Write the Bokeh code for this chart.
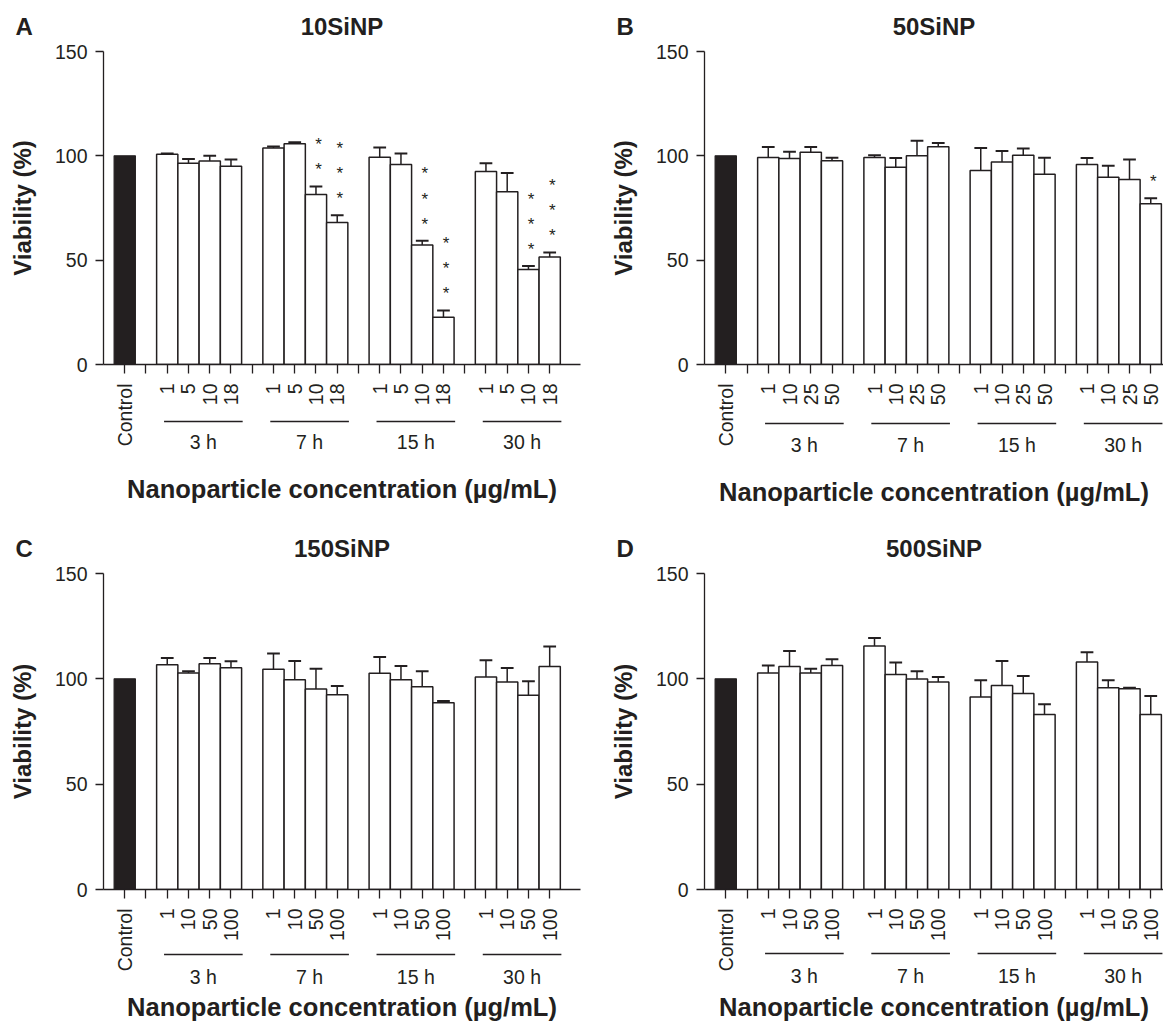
import math
from bokeh.plotting import figure
from bokeh.layouts import column, row
from bokeh.models import Range1d, FixedTicker
from bokeh.embed import file_html
from bokeh.resources import INLINE
from bokeh.core.properties import value

# ---------------- data ----------------
groups = ["3 h", "7 h", "15 h", "30 h"]
control_label = "Control"
control_value = 100

conc_A = ["1", "5", "10", "18"]
vals_A = [100.8, 96.5, 97.5, 95.0, 103.7, 105.8, 81.5, 68.0,
          99.3, 95.8, 57.3, 22.7, 92.5, 82.8, 45.5, 51.5]
errs_A = [0.3, 2.0, 2.5, 3.2, 0.8, 0.7, 3.8, 3.5,
          4.7, 5.3, 2.0, 3.2, 4.0, 9.0, 1.7, 2.2]
stars_A = [0, 0, 0, 0, 0, 0, 2, 3, 0, 0, 3, 3, 0, 0, 3, 3]

conc_B = ["1", "10", "25", "50"]
vals_B = [99.2, 98.7, 101.7, 97.7, 99.2, 94.5, 100.0, 104.4,
          93.0, 97.0, 100.3, 91.2, 95.8, 89.7, 88.6, 77.0]
errs_B = [5.0, 3.2, 2.5, 1.4, 1.1, 4.5, 7.2, 1.7,
          10.7, 5.3, 3.2, 7.9, 3.2, 5.6, 9.7, 2.7]
stars_B = [0, 0, 0, 0, 0, 0, 0, 0, 0, 0, 0, 0, 0, 0, 0, 1]

conc_C = ["1", "10", "50", "100"]
vals_C = [106.7, 102.8, 107.2, 105.3, 104.5, 99.6, 95.2, 92.5,
          102.6, 99.6, 96.3, 88.7, 100.9, 98.5, 92.2, 105.9]
errs_C = [3.2, 0.8, 2.7, 3.0, 7.5, 8.9, 9.6, 4.1,
          7.8, 6.5, 7.3, 0.8, 7.9, 6.6, 6.6, 9.5]
stars_C = [0] * 16

conc_D = ["1", "10", "50", "100"]
vals_D = [102.8, 105.9, 102.8, 106.3, 115.6, 102.0, 99.9, 98.5,
          91.4, 96.8, 93.0, 83.1, 108.0, 95.8, 95.3, 83.1]
errs_D = [3.5, 7.3, 2.0, 3.0, 3.8, 5.8, 3.7, 2.4,
          7.9, 11.7, 8.3, 4.8, 4.6, 3.5, 0.5, 8.7]
stars_D = [0] * 16

y_ticks = [0, 50, 100, 150]
x_title = "Nanoparticle concentration (\u00b5g/mL)"
y_title = "Viability (%)"

# ---------------- style ----------------
FONT = "Liberation Sans"
INK = "#231f20"
LEFT = 103
BOTTOM = 12   # space under the main x axis (ticks + half of the "0" label)


def base(**kw):
    p = figure(output_backend="svg", toolbar_location=None, **kw)
    p.outline_line_color = None
    p.background_fill_color = "white"
    p.border_fill_color = "white"
    return p


def panel(letter, title, concs, vals, errs, stars, x_end, frame_w, right_border,
          frame_h, head_h, title_y, line_off, lab_off, f_bottom, f_border,
          xl_standoff):
    x_start = -1
    width = LEFT + frame_w + right_border
    slots = [2 + 5 * (i // 4) + (i % 4) for i in range(len(vals))]
    n_slots = 21

    # ---- main chart
    M = base(frame_width=frame_w, frame_height=frame_h,
             x_range=Range1d(x_start, x_end), y_range=Range1d(0, 150),
             min_border_left=LEFT, min_border_right=right_border,
             min_border_top=12, min_border_bottom=BOTTOM)
    M.grid.visible = False

    M.vbar(x=[0], top=[control_value], width=1.0, fill_color=INK,
           line_color=INK, line_width=1.2)
    M.vbar(x=slots, top=vals, width=1.0, fill_color="white",
           line_color=INK, line_width=1.5)

    tops = [v + e for v, e in zip(vals, errs)]
    M.segment(x0=slots, y0=vals, x1=slots, y1=tops, line_color=INK, line_width=1.5)
    M.segment(x0=[s - 0.3 for s in slots], y0=tops, x1=[s + 0.3 for s in slots],
              y1=tops, line_color=INK, line_width=2)

    sx, sy = [], []
    for s, t, n in zip(slots, tops, stars):
        for k in range(n):
            sx.append(s + 0.12)
            sy.append(t + 8 + 12 * k)
    if sx:
        M.text(x=sx, y=sy, text=["*"] * len(sx), text_font=value(FONT),
               text_font_size="17px", text_align="center",
               text_baseline="middle", text_color=INK)

    xa = M.xaxis[0]
    xa.ticker = FixedTicker(ticks=list(range(n_slots)))
    xa.major_label_overrides = {t: "" for t in range(n_slots)}
    xa.major_label_orientation = math.pi / 2
    xa.major_label_standoff = 0
    xa.major_tick_out = 9
    xa.major_tick_in = 0
    xa.minor_tick_line_color = None
    xa.axis_line_color = INK
    xa.axis_line_width = 1.3
    xa.major_tick_line_color = INK
    xa.major_tick_line_width = 1.3

    ya = M.yaxis[0]
    ya.ticker = FixedTicker(ticks=y_ticks)
    ya.major_tick_out = 8
    ya.major_tick_in = 0
    ya.minor_tick_line_color = None
    ya.major_label_standoff = 8
    ya.major_label_text_font = FONT
    ya.major_label_text_font_size = "19.5px"
    ya.major_label_text_color = INK
    ya.axis_line_color = INK
    ya.axis_line_width = 1.3
    ya.major_tick_line_color = INK
    ya.major_tick_line_width = 1.3
    ya.axis_label = y_title
    ya.axis_label_standoff = 16
    ya.axis_label_text_font = FONT
    ya.axis_label_text_font_size = "24px"
    ya.axis_label_text_font_style = "bold"
    ya.axis_label_text_color = INK

    # ---- header: panel letter + title
    free = True
    H = base(width=width, height=head_h, x_range=Range1d(0, width),
             y_range=Range1d(0, head_h), x_axis_type=None, y_axis_type=None,
             min_border=0)
    try:
        H.frame_align = False
    except Exception:
        free = False
    if free:
        H.text(x=[15], y=[title_y], text=[letter], text_font=value(FONT),
               text_font_size="24px", text_font_style="bold", text_align="left",
               text_baseline="middle", text_color=INK)
        H.text(x=[LEFT + frame_w / 2], y=[title_y], text=[title],
               text_font=value(FONT), text_font_size="24px",
               text_font_style="bold", text_align="center",
               text_baseline="middle", text_color=INK)
    else:
        H = base(frame_width=frame_w, frame_height=head_h, x_range=M.x_range,
                 y_range=Range1d(0, head_h), x_axis_type=None,
                 min_border_left=LEFT, min_border_right=right_border,
                 min_border_top=0, min_border_bottom=0)
        H.grid.visible = False
        ha = H.yaxis[0]
        ha.ticker = FixedTicker(ticks=[title_y])
        ha.major_label_overrides = {title_y: letter}
        ha.axis_line_color = None
        ha.major_tick_line_color = None
        ha.minor_tick_line_color = None
        ha.major_tick_out = 0
        ha.major_label_standoff = LEFT - 15 - 17
        ha.major_label_text_font = FONT
        ha.major_label_text_font_size = "24px"
        ha.major_label_text_font_style = "bold"
        ha.major_label_text_color = INK
        H.text(x=[(x_start + x_end) / 2], y=[title_y], text=[title],
               text_font=value(FONT), text_font_size="24px",
               text_font_style="bold", text_align="center",
               text_baseline="middle", text_color=INK)

    # ---- footer: category labels, group bars and x title
    # y in pixels below the main x axis (inverted range)
    F = base(frame_width=frame_w, frame_height=f_bottom - BOTTOM,
             x_range=M.x_range, y_range=Range1d(f_bottom, BOTTOM),
             min_border_left=LEFT, min_border_right=right_border,
             min_border_top=0, min_border_bottom=f_border, y_axis_type=None)
    F.grid.visible = False

    lab_x = [0] + slots
    lab_t = [control_label] + [concs[i % 4] for i in range(len(slots))]
    F.text(x=lab_x, y=[19] * len(lab_x), text=lab_t, angle=math.pi / 2,
           text_font=value(FONT), text_font_size="19.5px", text_align="right",
           text_baseline="middle", text_color=INK)

    centers = [3.5 + 5 * g + 0.2 for g in range(len(groups))]
    F.segment(x0=[c - 1.85 for c in centers], y0=[line_off] * len(centers),
              x1=[c + 1.85 for c in centers], y1=[line_off] * len(centers),
              line_color=INK, line_width=1.3)
    F.text(x=centers, y=[lab_off] * len(centers), text=groups,
           text_font=value(FONT), text_font_size="19.5px", text_align="center",
           text_baseline="middle", text_color=INK)

    fa = F.xaxis[0]
    fa.ticker = FixedTicker(ticks=[])
    fa.axis_line_color = None
    fa.major_tick_out = 0
    fa.minor_tick_out = 0
    fa.major_tick_line_color = None
    fa.minor_tick_line_color = None
    fa.major_label_standoff = 0
    fa.axis_label = x_title
    fa.axis_label_standoff = xl_standoff
    fa.axis_label_text_font = FONT
    fa.axis_label_text_font_size = "25.5px"
    fa.axis_label_text_font_style = "bold"
    fa.axis_label_text_color = INK

    return column(H, M, F, spacing=0)


# row 1 : 39 + (12+313+12) + (88+58) = 522 px ; row 2 : 39 + (12+316+12) + (88+32) = 499 px
pA = panel("A", "10SiNP", conc_A, vals_A, errs_A, stars_A, 21.45, 477, 21,
           313, 39, 13.5, 57, 77, 100, 58, 10)
pB = panel("B", "50SiNP", conc_B, vals_B, errs_B, stars_B, 20.6, 459, 0,
           313, 39, 13.5, 59, 80, 100, 58, 13)
pC = panel("C", "150SiNP", conc_C, vals_C, errs_C, stars_C, 21.45, 477, 21,
           316, 39, 13.5, 65, 87, 100, 32, 3)
pD = panel("D", "500SiNP", conc_D, vals_D, errs_D, stars_D, 20.6, 459, 0,
           316, 39, 13.5, 64, 86, 100, 32, 3)

layout = column(row(pA, pB, spacing=0), row(pC, pD, spacing=0), spacing=0)
open("out.html", "w").write(file_html(layout, INLINE))
